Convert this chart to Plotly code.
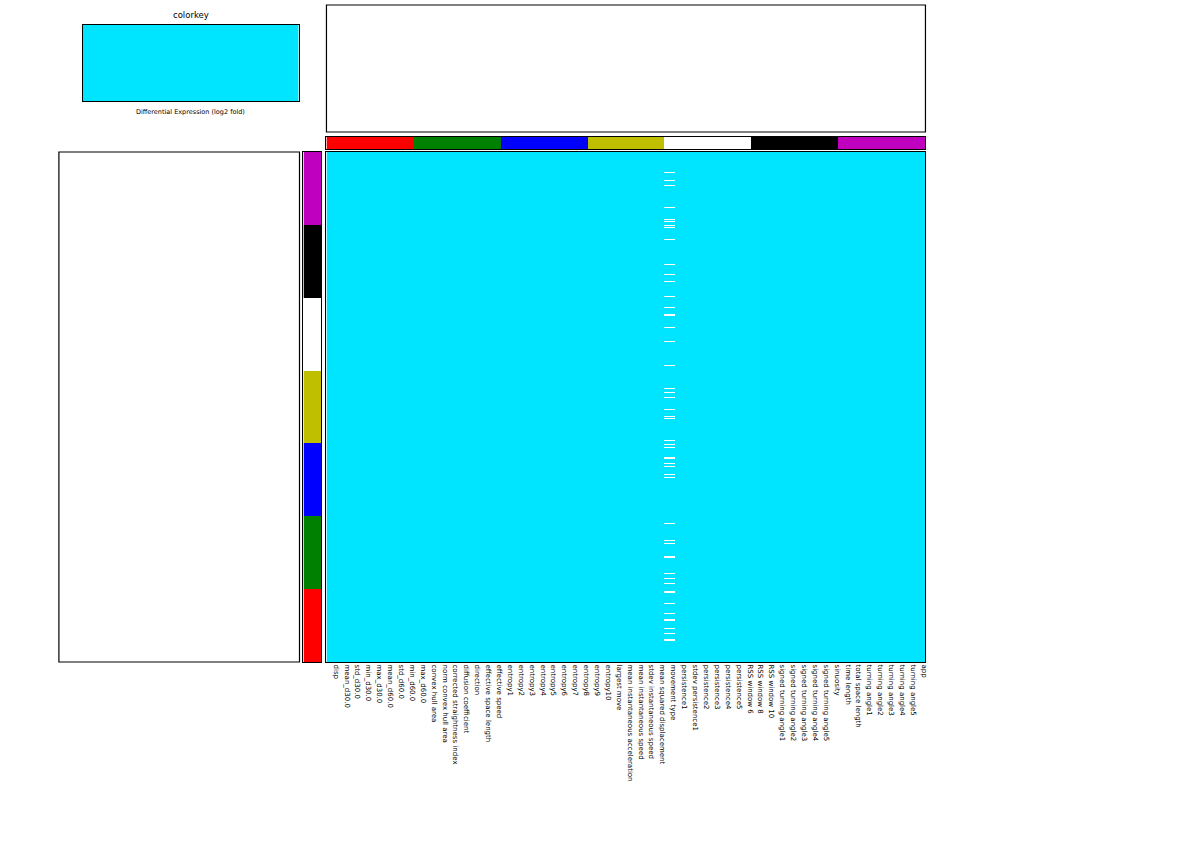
import numpy as np
import plotly.graph_objects as go

# ---------------- data ----------------
col_labels = [
    "disp", "mean_d30.0", "std_d30.0", "min_d30.0", "max_d30.0",
    "mean_d60.0", "std_d60.0", "min_d60.0", "max_d60.0",
    "convex hull area", "norm convex hull area", "corrected straightness index",
    "diffusion coefficient", "direction", "effective space length", "effective speed",
    "entropy1", "entropy2", "entropy3", "entropy4", "entropy5", "entropy6",
    "entropy7", "entropy8", "entropy9", "entropy10", "largest move",
    "mean instantaneous acceleration", "mean instantaneous speed",
    "stdev instantaneous speed", "mean squared displacement", "movement type",
    "persistence1", "stdev persistence1", "persistence2", "persistence3",
    "persistence4", "persistence5", "RSS window 6", "RSS window 8", "RSS window 10",
    "signed turning angle1", "signed turning angle2", "signed turning angle3",
    "signed turning angle4", "signed turning angle5", "sinuosity", "time length",
    "total space length", "turning angle1", "turning angle2", "turning angle3",
    "turning angle4", "turning angle5", "app",
]
group_colors = ["#FF0000", "#008000", "#0000FF", "#BFBF00", "#FFFFFF", "#000000", "#BF00BF"]
col_group_sizes = [8, 8, 8, 7, 8, 8, 8]
row_group_sizes = [72, 72, 72, 72, 72, 72, 72]
heat_value = 0.0
missing_column = "movement type"
missing_rows = [
    483, 475, 470, 449, 437, 435, 431, 429, 417, 392, 382, 376, 361, 350,
    342, 343, 330, 316, 293, 270, 266, 261, 249, 242, 240, 218, 214, 211,
    201, 202, 196, 193, 185, 182, 136, 120, 117, 103, 104, 87, 82, 77,
    68, 69, 57, 47, 41, 33, 28, 21, 22,
]
heat_color = "#00E5FF"
key_title = "colorkey"
key_label = "Differential Expression (log2 fold)"

# ---------------- build ----------------
n_cols = len(col_labels)
n_rows = sum(row_group_sizes)
z = np.full((n_rows, n_cols), heat_value)
mc = col_labels.index(missing_column)
for r in missing_rows:
    z[r, mc] = np.nan

col_groups = np.repeat(np.arange(len(col_group_sizes)), col_group_sizes)
row_groups = np.repeat(np.arange(len(row_group_sizes)), row_group_sizes)
disc_scale = [[i / (len(group_colors) - 1), c] for i, c in enumerate(group_colors)]

W, H = 1200, 850
def px_x(a, b):
    return [a / W, b / W]
def px_y(top, bottom):
    return [1 - bottom / H, 1 - top / H]

label_shift = 0.37  # labels sit slightly right of column centres

fig = go.Figure()
fig.add_trace(go.Heatmap(
    z=z, x=list(range(n_cols)), y=list(range(n_rows)),
    colorscale=[[0, heat_color], [1, heat_color]], zmin=-1, zmax=1,
    showscale=False, xaxis="x", yaxis="y", hoverongaps=False,
))
fig.add_trace(go.Heatmap(
    z=[col_groups.tolist()], x=list(range(n_cols)), y=[0],
    colorscale=disc_scale, zmin=0, zmax=len(group_colors) - 1,
    showscale=False, xaxis="x2", yaxis="y2",
))
fig.add_trace(go.Heatmap(
    z=[[g] for g in row_groups], x=[0], y=list(range(n_rows)),
    colorscale=disc_scale, zmin=0, zmax=len(group_colors) - 1,
    showscale=False, xaxis="x3", yaxis="y3",
))
fig.add_trace(go.Heatmap(
    z=[[heat_value, heat_value]], x=[0, 1], y=[0],
    colorscale=[[0, heat_color], [1, heat_color]], zmin=-1, zmax=1,
    showscale=False, xaxis="x4", yaxis="y4",
))

frame = dict(showline=True, mirror=True, linecolor="black", linewidth=1.2,
             showgrid=False, zeroline=False, ticks="")
blank = dict(frame, showticklabels=False)

fig.update_layout(
    width=W, height=H, margin=dict(l=0, r=0, t=0, b=0),
    paper_bgcolor="white", plot_bgcolor="white", showlegend=False,
    font=dict(family="DejaVu Sans", color="black"),
    xaxis=dict(frame, domain=px_x(327, 927), range=[-0.5, n_cols - 0.5],
               tickmode="array", tickvals=[i + label_shift for i in range(n_cols)],
               ticktext=col_labels,
               tickangle=90, tickfont=dict(size=7, family="DejaVu Sans", color="black"),
               anchor="y"),
    yaxis=dict(blank, domain=px_y(152, 662), range=[-0.5, n_rows - 0.5], anchor="x"),
    xaxis2=dict(blank, domain=px_x(327, 927), range=[-0.5, n_cols - 0.5], anchor="y2"),
    yaxis2=dict(blank, domain=px_y(137, 149), range=[-0.5, 0.5], anchor="x2"),
    xaxis3=dict(blank, domain=px_x(304, 322), range=[-0.5, 0.5], anchor="y3"),
    yaxis3=dict(blank, domain=px_y(152, 662), range=[-0.5, n_rows - 0.5], anchor="x3"),
    xaxis4=dict(blank, domain=px_x(83, 299), range=[-0.5, 1.5], anchor="y4"),
    yaxis4=dict(blank, domain=px_y(25, 101), range=[-0.5, 0.5], anchor="x4"),
    shapes=[
        dict(type="rect", xref="paper", yref="paper",
             x0=327 / W, x1=927 / W, y0=1 - 132 / H, y1=1 - 5 / H,
             line=dict(color="black", width=1.2)),
        dict(type="rect", xref="paper", yref="paper",
             x0=59 / W, x1=300 / W, y0=1 - 662 / H, y1=1 - 152 / H,
             line=dict(color="black", width=1.2)),
    ],
    annotations=[
        dict(text=key_title, xref="paper", yref="paper", x=191 / W, y=1 - 15 / H,
             showarrow=False, font=dict(size=8.5, color="black"), xanchor="center", yanchor="middle"),
        dict(text=key_label, xref="paper", yref="paper", x=191 / W, y=1 - 112 / H,
             showarrow=False, font=dict(size=6.5, color="black"), xanchor="center", yanchor="middle"),
    ],
)

fig.write_html("out.html")
